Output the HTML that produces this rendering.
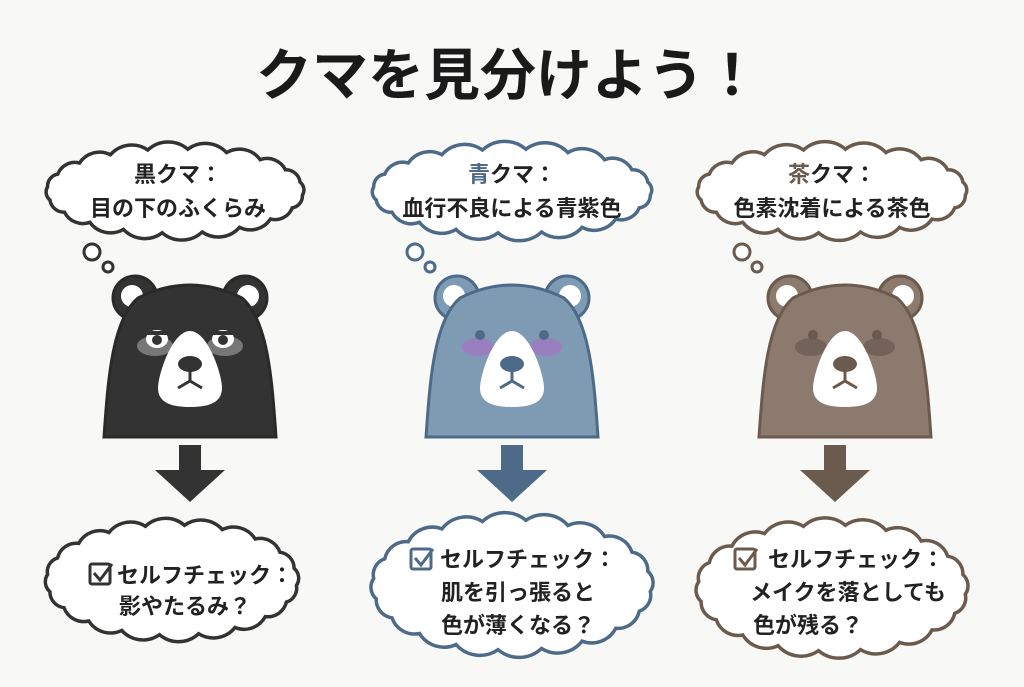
<!DOCTYPE html>
<html><head><meta charset="utf-8"><style>
html,body{margin:0;padding:0;background:#f8f8f6;}
svg{display:block}
text{font-family:"Liberation Sans","Noto Sans CJK JP",sans-serif;font-weight:bold;}
</style></head><body>
<svg id="s" width="1024" height="687" viewBox="0 0 1024 687" xmlns="http://www.w3.org/2000/svg">
<rect width="1024" height="687" fill="#f8f8f6"/>
<text x="508" y="95" text-anchor="middle" font-size="56" fill="#1a1a1a">クマを見分けよう！</text>
<g id="clouds"></g>
<g id="bears"></g>
<circle cx="92" cy="252" r="8" fill="#fff" stroke="#333" stroke-width="3"/>
<circle cx="108" cy="267" r="5" fill="#fff" stroke="#333" stroke-width="3"/>
<circle cx="415" cy="252" r="8" fill="#fff" stroke="#4d6a88" stroke-width="3"/>
<circle cx="430" cy="267" r="5" fill="#fff" stroke="#4d6a88" stroke-width="3"/>
<circle cx="742" cy="252" r="8" fill="#fff" stroke="#6b5a4e" stroke-width="3"/>
<circle cx="757" cy="267" r="5" fill="#fff" stroke="#6b5a4e" stroke-width="3"/>
<path d="M179,445 h22 v25 h24 l-35,32 l-35,-32 h24z" fill="#333"/>
<path d="M501,445 h22 v25 h24 l-35,32 l-35,-32 h24z" fill="#4d6a88"/>
<path d="M824,445 h22 v25 h24 l-35,32 l-35,-32 h24z" fill="#6b5a4e"/>
<g id="texts" font-size="22" fill="#222" text-anchor="middle">
<text x="178" y="182">黒クマ：</text>
<text x="178" y="216">目の下のふくらみ</text>
<text x="512" y="182"><tspan fill="#4d6a88">青</tspan>クマ：</text>
<text x="512" y="216">血行不良による青紫色</text>
<text x="832" y="182"><tspan fill="#6b5a4e">茶</tspan>クマ：</text>
<text x="832" y="216">色素沈着による茶色</text>
<text x="205" y="583">セルフチェック：</text>
<text x="185" y="614">影やたるみ？</text>
<text x="528" y="567">セルフチェック：</text>
<text x="518" y="600">肌を引っ張ると</text>
<text x="518" y="633">色が薄くなる？</text>
<text x="856" y="567">セルフチェック：</text>
<text x="848" y="600">メイクを落としても</text>
<text x="808" y="633">色が残る？</text>
</g>
<g fill="none" stroke-width="3">
<rect x="90" y="564" width="20" height="20" rx="2" stroke="#333"/><path d="M94,573 l6,7 l12,-16" stroke="#333"/>
<rect x="411" y="549" width="20" height="20" rx="2" stroke="#4d6a88"/><path d="M415,558 l6,7 l12,-16" stroke="#4d6a88"/>
<rect x="735" y="549" width="20" height="20" rx="2" stroke="#6b5a4e"/><path d="M739,558 l6,7 l12,-16" stroke="#6b5a4e"/>
</g>
</svg>
<script>
var NS="http://www.w3.org/2000/svg";
function cloud(cx,cy,rx,ry,n,stroke){
  var pts=[];for(var i=0;i<n;i++){var a=i/n*2*Math.PI+0.1;pts.push([cx+rx*Math.cos(a),cy+ry*Math.sin(a)]);}
  var d="M"+pts[0][0].toFixed(1)+","+pts[0][1].toFixed(1);
  for(var i=1;i<=n;i++){var p=pts[i%n],q=pts[i-1];var ch=Math.hypot(p[0]-q[0],p[1]-q[1]);var r=ch*0.75;
    d+=" A"+r.toFixed(1)+","+r.toFixed(1)+" 0 0 1 "+p[0].toFixed(1)+","+p[1].toFixed(1);}
  var e=document.createElementNS(NS,"path");e.setAttribute("d",d+"Z");e.setAttribute("fill","#fff");
  e.setAttribute("stroke",stroke);e.setAttribute("stroke-width","3.5");document.getElementById("clouds").appendChild(e);
}
cloud(175,191,128,42,20,"#333");
cloud(512,191,139,42,20,"#4d6a88");
cloud(832,191,134,42,20,"#6b5a4e");
cloud(172,580,125,55,20,"#333");
cloud(512,585,139,65,20,"#4d6a88");
cloud(832,588,134,63,20,"#6b5a4e");
function bear(cx,fill,stroke,inner,cheek,mode){
  var g=document.getElementById("bears"),h="";
  h+='<circle cx="'+(cx-55)+'" cy="298" r="22" fill="'+fill+'" stroke="'+stroke+'" stroke-width="3"/>';
  h+='<circle cx="'+(cx+55)+'" cy="298" r="22" fill="'+fill+'" stroke="'+stroke+'" stroke-width="3"/>';
  h+='<circle cx="'+(cx-58)+'" cy="296" r="11" fill="'+inner+'"/>';
  h+='<circle cx="'+(cx+58)+'" cy="296" r="11" fill="'+inner+'"/>';
  h+='<path d="M'+(cx-86)+',437 C'+(cx-82)+',380 '+(cx-78)+',320 '+(cx-52)+',298 Q'+cx+',272 '+(cx+52)+',298 C'+(cx+78)+',320 '+(cx+82)+',380 '+(cx+86)+',437 Z" fill="'+fill+'" stroke="'+stroke+'" stroke-width="3"/>';
  if(mode==0){
    h+='<ellipse cx="'+(cx-35)+'" cy="346" rx="18" ry="10" fill="#777"/><ellipse cx="'+(cx+35)+'" cy="346" rx="18" ry="10" fill="#777"/>';
    h+='<ellipse cx="'+(cx-33)+'" cy="339" rx="11" ry="9" fill="#fff"/><ellipse cx="'+(cx+33)+'" cy="339" rx="11" ry="9" fill="#fff"/>';
    h+='<circle cx="'+(cx-33)+'" cy="340" r="5" fill="#333"/><circle cx="'+(cx+33)+'" cy="340" r="5" fill="#333"/>';
    h+='<path d="M'+(cx-46)+',333 h26 M'+(cx+20)+',333 h26" stroke="#333" stroke-width="4"/>';
  } else {
    h+='<ellipse cx="'+(cx-34)+'" cy="347" rx="16" ry="9" fill="'+cheek+'"/><ellipse cx="'+(cx+34)+'" cy="347" rx="16" ry="9" fill="'+cheek+'"/>';
    h+='<circle cx="'+(cx-32)+'" cy="335" r="5" fill="'+stroke+'"/><circle cx="'+(cx+32)+'" cy="335" r="5" fill="'+stroke+'"/>';
  }
  h+='<path d="M'+cx+',331 C'+(cx+18)+',331 '+(cx+32)+',375 '+(cx+32)+',388 C'+(cx+32)+',403 '+(cx+18)+',407 '+cx+',407 C'+(cx-18)+',407 '+(cx-32)+',403 '+(cx-32)+',388 C'+(cx-32)+',375 '+(cx-18)+',331 '+cx+',331Z" fill="#fff"/>';
  h+='<ellipse cx="'+cx+'" cy="364" rx="12" ry="8" fill="'+(mode==0?'#333':stroke)+'"/>';
  h+='<path d="M'+cx+',370 v12 M'+(cx-12)+',388 L'+cx+',381 L'+(cx+12)+',388" fill="none" stroke="'+(mode==0?'#333':stroke)+'" stroke-width="3"/>';
  g.insertAdjacentHTML("beforeend",h);
}
bear(190,"#333","#2a2a2a","#fff","",0);
bear(512,"#7f9ab3","#4d6a88","#fff","#9a7fc0",1);
bear(845,"#8c7a6e","#6b5a4e","#fff","#73625a",1);
</script>
</body></html>
